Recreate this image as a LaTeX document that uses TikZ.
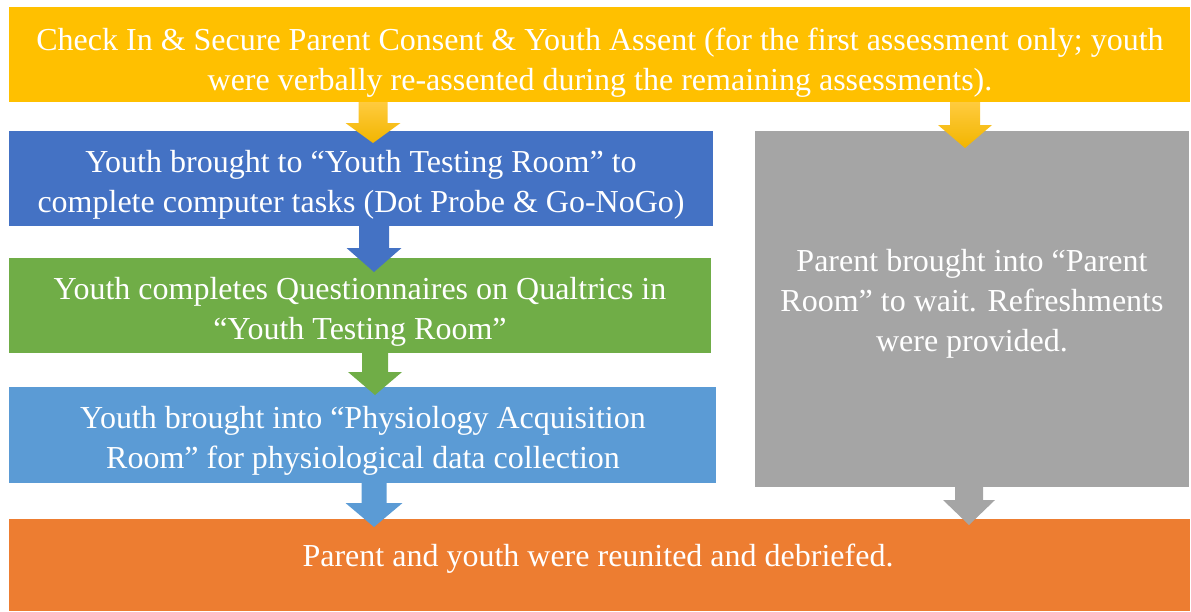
\documentclass[tikz,border=0pt]{standalone}
\usepackage{fontspec}
\setmainfont{Liberation Serif}
\definecolor{stepyellow}{HTML}{FFC000}
\definecolor{stepyellowlight}{HTML}{FFCB3E}
\definecolor{stepyellowdark}{HTML}{F2B500}
\definecolor{stepblue}{HTML}{4472C4}
\definecolor{stepgreen}{HTML}{70AD47}
\definecolor{steplightblue}{HTML}{5B9BD5}
\definecolor{stepgray}{HTML}{A5A5A5}
\definecolor{steporange}{HTML}{ED7D31}
\tikzset{
  stepbox/.style={fill=#1, draw=none, inner sep=0pt, anchor=north west},
  steptext/.style={text=white, align=center, inner sep=0pt,
    font=\fontsize{32}{40}\selectfont},
  yellowarrow/.style={top color=stepyellowlight, bottom color=stepyellowdark, draw=none},
}
% block arrow: #1 centre x, #2 top y, #3 y where the head starts, #4 tip y,
% #5 shaft half-width, #6 head half-width, #7 fill style
\newcommand\blockarrow[7]{%
  \path[#7] (#1-#5,#2) -- (#1+#5,#2) -- (#1+#5,#3) -- (#1+#6,#3)
    -- (#1,#4) -- (#1-#6,#3) -- (#1-#5,#3) -- cycle;}
\begin{document}
\begin{tikzpicture}[x=1pt,y=-1pt]
\useasboundingbox (0,0) rectangle (1191,611);

% boxes
\node[stepbox=stepyellow, minimum width=1181pt, minimum height=95pt] (consent) at (9,7) {};
\node[stepbox=stepblue, minimum width=704pt, minimum height=95pt] (tasks) at (9,131) {};
\node[stepbox=stepgreen, minimum width=702pt, minimum height=95pt] (quest) at (9,258) {};
\node[stepbox=steplightblue, minimum width=707pt, minimum height=96pt] (physio) at (9,387) {};
\node[stepbox=stepgray, minimum width=434pt, minimum height=356pt] (parent) at (755,131) {};
\node[stepbox=steporange, minimum width=1181pt, minimum height=92pt] (reunite) at (9,519) {};

% labels
\node[steptext] (consentlbl) at (600,63) {Check In \& Secure Parent Consent \& Youth Assent (for the first assessment only; youth\\were verbally re-assented during the remaining assessments).};
\node[steptext] (taskslbl) at (361,185) {Youth brought to “Youth Testing Room” to\\complete computer tasks (Dot Probe \& Go-NoGo)};
\node[steptext] (questlbl) at (360,312) {Youth completes Questionnaires on Qualtrics in\\“Youth Testing Room”};
\node[steptext] (physiolbl) at (363,441) {Youth brought into “Physiology Acquisition\\Room” for physiological data collection};
\node[steptext] (parentlbl) at (972,304) {Parent brought into “Parent\\Room” to wait. Refreshments\\were provided.};
\node[steptext] (reunitelbl) at (598,559) {Parent and youth were reunited and debriefed.};

% arrows between the steps
\blockarrow{373}{102}{123}{143}{14.5}{27.5}{yellowarrow}
\blockarrow{965}{102}{125}{148}{15}{27}{yellowarrow}
\blockarrow{374}{226}{248}{272}{15}{27.5}{fill=stepblue}
\blockarrow{375}{353}{372}{395}{13}{27}{fill=stepgreen}
\blockarrow{374}{483}{503}{527}{12.5}{28.5}{fill=steplightblue}
\blockarrow{969}{487}{500}{525}{14}{26}{fill=stepgray}
\end{tikzpicture}
\end{document}
